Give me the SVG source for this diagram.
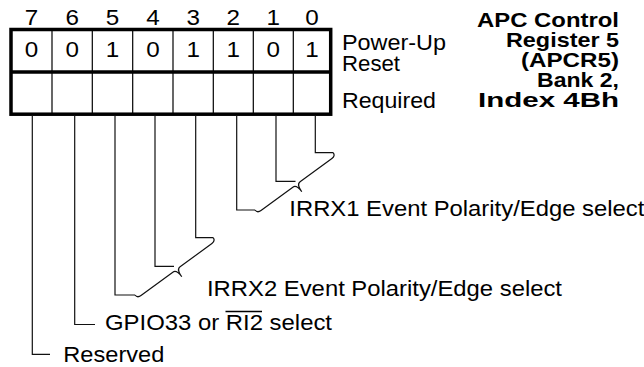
<svg xmlns="http://www.w3.org/2000/svg" width="644" height="367" viewBox="0 0 644 367">
<style>
.t{font-family:"Liberation Sans",Arial,sans-serif;font-size:22px;fill:#000}
.b{font-family:"Liberation Sans",Arial,sans-serif;font-size:20.5px;font-weight:bold;fill:#000;text-anchor:end}
.c{text-anchor:middle}
.thick{fill:none;stroke:#000;stroke-width:3.5}
.thin{fill:none;stroke:#000;stroke-width:1.2}
.ln{fill:none;stroke:#111;stroke-width:1.2}
</style>
<defs>
<path id="brace" d="M0,0 C0,2.5 1.5,4 4.5,4 L44,4 C47,4 48.5,6 48.5,13 C48.5,6 50,4 53,4 L92.5,4 C95.5,4 97,2.5 97,0"/>
</defs>
<rect width="644" height="367" fill="#fff"/>
<g id="register">
<rect class="thick" x="11" y="29.5" width="319.7" height="84.7"/>
<line class="thick" x1="11" y1="72" x2="330.7" y2="72"/>
<g class="thin">
<line x1="52" y1="30" x2="52" y2="114"/>
<line x1="92.3" y1="30" x2="92.3" y2="114"/>
<line x1="132.7" y1="30" x2="132.7" y2="114"/>
<line x1="173" y1="30" x2="173" y2="114"/>
<line x1="213.3" y1="30" x2="213.3" y2="114"/>
<line x1="253.3" y1="30" x2="253.3" y2="114"/>
<line x1="293.3" y1="30" x2="293.3" y2="114"/>
</g>
<g class="t c">
<text x="31.5" y="25" textLength="13.5" lengthAdjust="spacingAndGlyphs">7</text>
<text x="72.2" y="25" textLength="13.5" lengthAdjust="spacingAndGlyphs">6</text>
<text x="112.5" y="25" textLength="13.5" lengthAdjust="spacingAndGlyphs">5</text>
<text x="152.9" y="25" textLength="13.5" lengthAdjust="spacingAndGlyphs">4</text>
<text x="193.2" y="25" textLength="13.5" lengthAdjust="spacingAndGlyphs">3</text>
<text x="233.3" y="25" textLength="13.5" lengthAdjust="spacingAndGlyphs">2</text>
<text x="273.3" y="25" textLength="13.5" lengthAdjust="spacingAndGlyphs">1</text>
<text x="312" y="25" textLength="13.5" lengthAdjust="spacingAndGlyphs">0</text>
<text x="31.5" y="57" textLength="13.5" lengthAdjust="spacingAndGlyphs">0</text>
<text x="72.2" y="57" textLength="13.5" lengthAdjust="spacingAndGlyphs">0</text>
<text x="112.5" y="57" textLength="13.5" lengthAdjust="spacingAndGlyphs">1</text>
<text x="152.9" y="57" textLength="13.5" lengthAdjust="spacingAndGlyphs">0</text>
<text x="193.2" y="57" textLength="13.5" lengthAdjust="spacingAndGlyphs">1</text>
<text x="233.3" y="57" textLength="13.5" lengthAdjust="spacingAndGlyphs">1</text>
<text x="273.3" y="57" textLength="13.5" lengthAdjust="spacingAndGlyphs">0</text>
<text x="312" y="57" textLength="13.5" lengthAdjust="spacingAndGlyphs">1</text>
</g>
</g>
<g id="row-labels" class="t">
<text x="342" y="50" textLength="104" lengthAdjust="spacingAndGlyphs">Power-Up</text>
<text x="342" y="71" textLength="58" lengthAdjust="spacingAndGlyphs">Reset</text>
<text x="342" y="108" textLength="94" lengthAdjust="spacingAndGlyphs">Required</text>
</g>
<g id="title" class="b">
<text x="619" y="27" textLength="142" lengthAdjust="spacingAndGlyphs">APC Control</text>
<text x="619" y="46.7" textLength="113" lengthAdjust="spacingAndGlyphs">Register 5</text>
<text x="619" y="66.5" textLength="98" lengthAdjust="spacingAndGlyphs">(APCR5)</text>
<text x="619" y="86.5" textLength="82" lengthAdjust="spacingAndGlyphs">Bank 2,</text>
<text x="619" y="106.5" textLength="141" lengthAdjust="spacingAndGlyphs">Index 4Bh</text>
</g>
<g id="connectors" class="ln">
<polyline points="315.3,115 315.3,152.6 333.2,152.6"/>
<polyline points="276,115 276,181.3 295.5,181.3"/>
<polyline points="236.7,115 236.7,210 255,210"/>
<use href="#brace" transform="translate(255,210) rotate(-36.3)"/>
<polyline points="195.7,115 195.7,237.6 213.2,237.6"/>
<polyline points="155,115 155,266.3 174,266.3"/>
<polyline points="115,115 115,295 135,295"/>
<use href="#brace" transform="translate(135,295) rotate(-36.3)"/>
<polyline points="74.7,115 74.7,324.5 95,324.5"/>
<polyline points="32.3,115 32.3,354.3 50,354.3"/>
</g>
<g id="label-irrx1" class="t">
<text x="289.3" y="216" textLength="355" lengthAdjust="spacingAndGlyphs">IRRX1 Event Polarity/Edge select</text>
</g>
<g id="label-irrx2" class="t">
<text x="207" y="296" textLength="355" lengthAdjust="spacingAndGlyphs">IRRX2 Event Polarity/Edge select</text>
</g>
<g id="label-gpio" class="t">
<text x="105" y="330" textLength="227" lengthAdjust="spacingAndGlyphs">GPIO33 or RI2 select</text>
<line x1="225.5" y1="311.5" x2="262" y2="311.5" stroke="#000" stroke-width="1.5"/>
</g>
<g id="label-reserved" class="t">
<text x="63.3" y="361.5" textLength="101" lengthAdjust="spacingAndGlyphs">Reserved</text>
</g>
</svg>
